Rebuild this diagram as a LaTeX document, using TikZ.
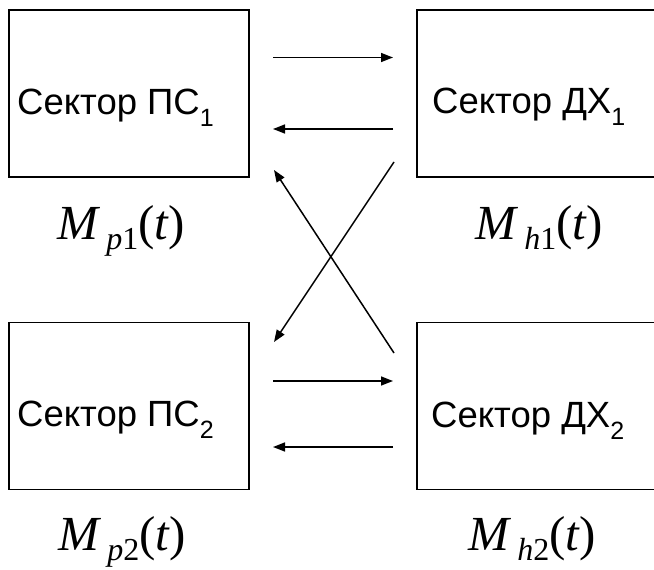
\documentclass[tikz,border=0pt]{standalone}
\usepackage{fontspec}
\setmainfont{Liberation Sans}
\newfontfamily\tnr{Liberation Serif}
\usetikzlibrary{arrows.meta,calc}

% label M_{..}(t) in Times-like italics
\newcommand{\Mlab}[2]{{\tnr\fontsize{49}{54}\selectfont\itshape M\hspace{8pt}\raisebox{-10pt}{\fontsize{32}{34}\selectfont #1\upshape #2}\upshape(\itshape t\upshape)}}
\newcommand{\sub}[1]{\raisebox{-12pt}{\fontsize{25}{27}\selectfont #1}}

\begin{document}
\begin{tikzpicture}[x=1pt,y=-1pt,
  sector/.style={draw,line width=1.4pt,minimum width=240pt,minimum height=167pt,inner sep=0pt},
  stext/.style={anchor=base west,inner sep=0pt,font=\fontsize{36.5}{40}\selectfont},
  mtext/.style={anchor=base,inner sep=0pt},
  link/.style={line width=1.5pt,-{Triangle[length=12pt,width=9pt]}}]
\clip (0,0) rectangle (654,570);
\node[sector] (ps1) at (129,93.5){};
\node[sector] (dh1) at (537,93.5){};
\node[sector] (ps2) at (129,406){};
\node[sector] (dh2) at (537,406){};
\node[stext] (ps1t) at (17,114){Сектор ПС\sub{1}};
\node[stext] (dh1t) at (432,113){Сектор ДХ\sub{1}};
\node[stext] (ps2t) at (17,426){Сектор ПС\sub{2}};
\node[stext] (dh2t) at (431,427){Сектор ДХ\sub{2}};
\node[mtext] (mp1) at (121,239){\Mlab{p}{1}};
\node[mtext] (mh1) at (539,239){\Mlab{h}{1}};
\node[mtext] (mp2) at (122,550){\Mlab{p}{2}};
\node[mtext] (mh2) at (532,550){\Mlab{h}{2}};
% arrow ends
\foreach \n/\y in {a/57.5,b/129,c/381,d/447}{
  \coordinate (\n l) at (273,\y);
  \coordinate (\n r) at (393,\y);}
\coordinate (xtl) at (274,170);
\coordinate (xbl) at (274,342);
\coordinate (xtr) at (394,162);
\coordinate (xbr) at (394,353);
\draw[link] (al)--(ar);
\draw[link] (br)--(bl);
\draw[link] (cl)--(cr);
\draw[link] (dr)--(dl);
\draw[link] (xbr)--(xtl);
\draw[link] (xtr)--(xbl);
\end{tikzpicture}
\end{document}
